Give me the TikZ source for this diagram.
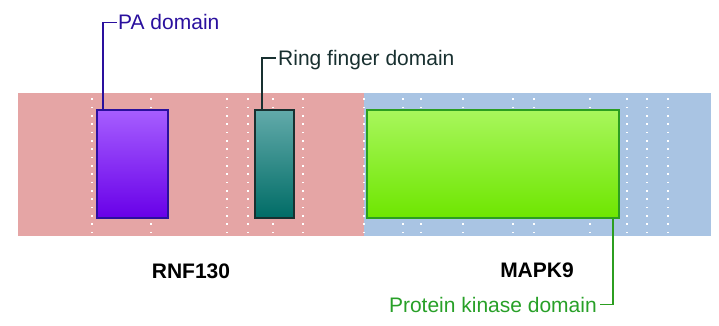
\documentclass[tikz,border=0pt]{standalone}
\usepackage{fontspec}
\setmainfont{Liberation Sans}
\begin{document}
\begin{tikzpicture}[x=1pt,y=-1pt,
  band/.style={draw=none},
  dots/.style={white, line width=1.6pt, dash pattern=on 1.6pt off 6.73pt},
  domainbox/.style={rectangle, minimum height=108pt, inner sep=0pt, line width=1.3pt},
  lbl/.style={inner sep=0pt, font=\fontsize{21}{24}\selectfont},
  gene/.style={inner sep=0pt, font=\fontsize{21}{24}\selectfont\bfseries},
  link/.style={line width=1.8pt}
]
\definecolor{pinkband}{RGB}{229,165,165}
\definecolor{blueband}{RGB}{169,196,227}
\definecolor{paTop}{RGB}{166,94,255}
\definecolor{paBot}{RGB}{104,0,232}
\definecolor{paLine}{RGB}{42,16,158}
\definecolor{rfTop}{RGB}{98,170,170}
\definecolor{rfBot}{RGB}{0,108,102}
\definecolor{rfLine}{RGB}{24,48,48}
\definecolor{pkTop}{RGB}{168,246,92}
\definecolor{pkBot}{RGB}{110,230,0}
\definecolor{pkLine}{RGB}{44,158,32}
\definecolor{pkText}{RGB}{40,160,40}
\useasboundingbox (0,0) rectangle (719,326);
% bands
\fill[pinkband] (18,93) rectangle (364,236);
\fill[blueband] (364,93) rectangle (711,236);
% dotted guide lines
\foreach \x in {92,151,227,248,273,303,364,403,421,463,513,534,590,627,647,668}
  \draw[dots] (\x,98.5) -- (\x,236);
% domain boxes
\node[domainbox, minimum width=71pt, draw=paLine, top color=paTop, bottom color=paBot] (pabox) at (132.5,164) {};
\node[domainbox, minimum width=39pt, draw=rfLine, top color=rfTop, bottom color=rfBot] (rfbox) at (274.5,164) {};
\node[domainbox, minimum width=252pt, draw=pkLine, top color=pkTop, bottom color=pkBot] (pkbox) at (493,164) {};
% labels
\node[lbl, anchor=base west, text=paLine] (palabel) at (118,30) {PA domain};
\node[lbl, anchor=base west, text=rfLine] (rflabel) at (278,65.5) {Ring finger domain};
\node[lbl, anchor=base east, text=pkText] (pklabel) at (597,312) {Protein kinase domain};
\node[gene] (rnf) at (191,271) {RNF130};
\node[gene] (mapk) at (537,270) {MAPK9};
% connectors
\draw[link, paLine] ([xshift=7pt]pabox.north west) |- ([xshift=-1pt,yshift=7.5pt]palabel.base west);
\draw[link, rfLine] ([xshift=7.5pt]rfbox.north west) |- ([xshift=-2pt,yshift=7.5pt]rflabel.base west);
\draw[link, pkLine] ([xshift=-7pt]pkbox.south east) |- ([xshift=3pt,yshift=7.5pt]pklabel.base east);
\end{tikzpicture}
\end{document}
